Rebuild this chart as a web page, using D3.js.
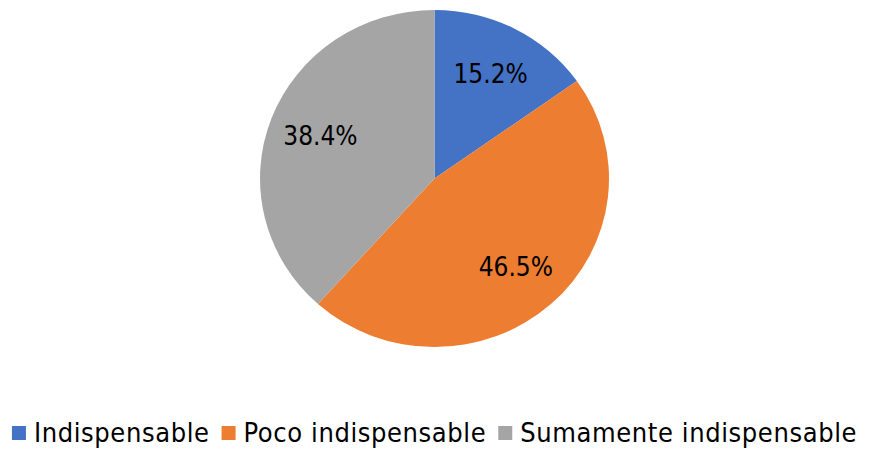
<!DOCTYPE html>
<html lang="es">
<head>
    <meta charset="UTF-8">
    <title>Pie</title>
    <script src="https://d3js.org/d3.v7.min.js"></script>
    <style>
        body { margin: 0; background: #fff; }
        text { font-family: "DejaVu Sans Condensed", "DejaVu Sans", sans-serif; font-stretch: condensed; }
    </style>
</head>
<body>
    <svg id="pie"></svg>

    <script>
        const categories = ["Indispensable", "Poco indispensable", "Sumamente indispensable"];
        const values = [15.2, 46.5, 38.4];
        const colors = ["#4472c4", "#ed7d31", "#a5a5a5"];

        const width = 870, height = 450;
        const cx = 434.5, cy = 178.5, radius = 174.5;
        const squash = 0.966; // the original pie is drawn slightly flattened

        const svg = d3.select("#pie")
            .attr("width", width)
            .attr("height", height);

        const pie = d3.pie().sort(null).value(d => d.value);
        const data = categories.map((c, i) => ({ name: c, value: values[i], color: colors[i] }));
        const arcs = pie(data);

        const arc = d3.arc().innerRadius(0).outerRadius(radius);
        const labelArc = d3.arc().innerRadius(radius * 0.7).outerRadius(radius * 0.7);

        svg.append("g")
            .attr("transform", `translate(${cx},${cy}) scale(1,${squash})`)
            .selectAll("path")
            .data(arcs)
            .enter()
            .append("path")
            .attr("d", arc)
            .attr("fill", d => d.data.color);

        svg.append("g")
            .attr("transform", `translate(${cx},${cy})`)
            .selectAll("text")
            .data(arcs)
            .enter()
            .append("text")
            .attr("transform", d => {
                const [x, y] = labelArc.centroid(d);
                return `translate(${x},${y * squash})`;
            })
            .attr("text-anchor", "middle")
            .attr("dy", "0.35em")
            .style("font-size", "26px")
            .attr("fill", "#000")
            .text(d => d.data.value.toFixed(1) + "%");

        // legend
        const legend = svg.append("g");
        const sq = 14, gapIn = 8, gapOut = 12;
        const items = legend.selectAll("g")
            .data(data)
            .enter()
            .append("g");

        items.append("rect")
            .attr("width", sq)
            .attr("height", sq)
            .attr("y", 426)
            .attr("fill", d => d.color);

        items.append("text")
            .attr("x", sq + gapIn)
            .attr("y", 442)
            .style("font-size", "27px")
            .style("letter-spacing", "0.6px")
            .attr("fill", "#000")
            .text(d => d.name);

        let widths = [];
        items.each(function() {
            widths.push(sq + gapIn + d3.select(this).select("text").node().getComputedTextLength());
        });
        const total = d3.sum(widths) + gapOut * (widths.length - 1);
        let x0 = cx - total / 2;
        items.attr("transform", (d, i) => {
            const t = `translate(${x0},0)`;
            x0 += widths[i] + gapOut;
            return t;
        });
    </script>
</body>
</html>
